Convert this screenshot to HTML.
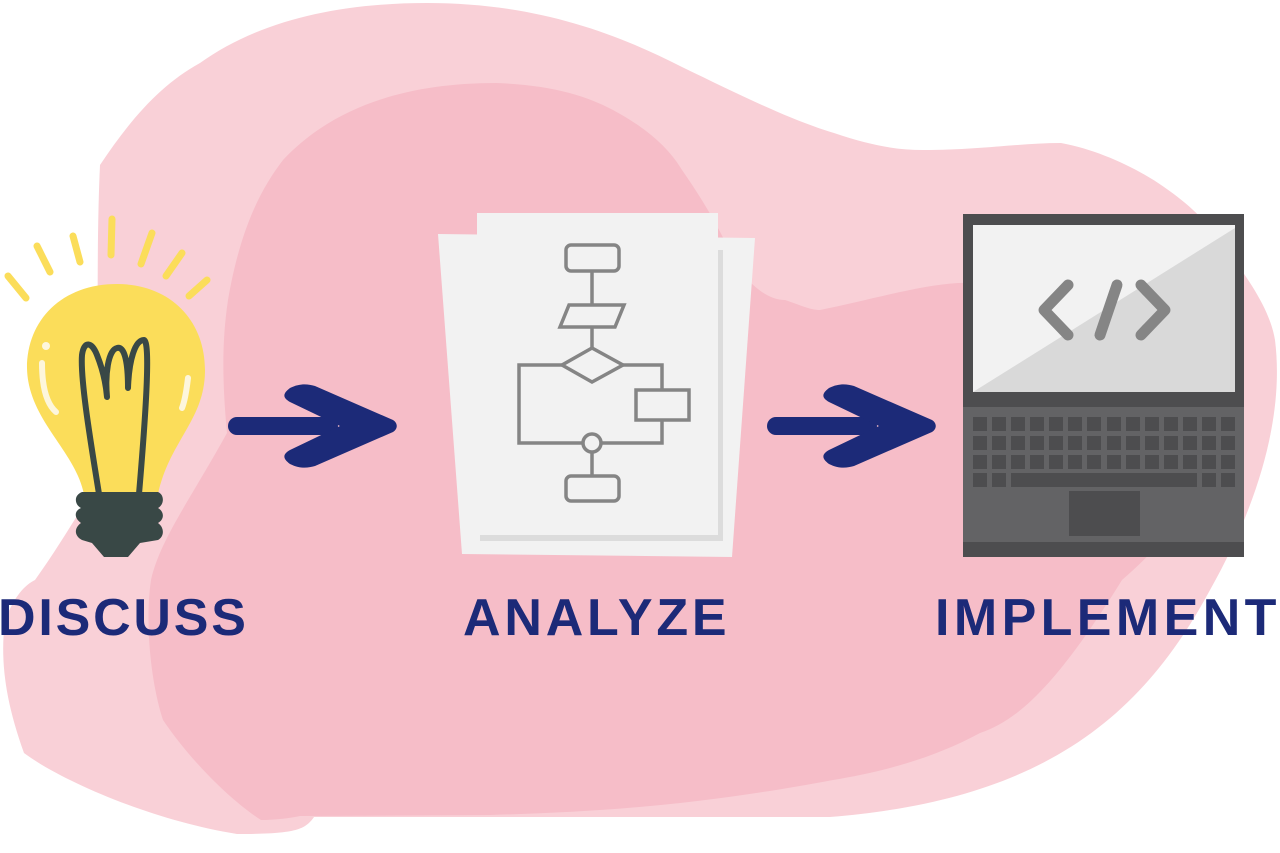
<!DOCTYPE html>
<html><head><meta charset="utf-8"><style>
html,body{margin:0;padding:0;background:#fff;}
body{width:1280px;height:853px;overflow:hidden;position:relative;}
svg{position:absolute;left:0;top:0;}
.t{position:absolute;top:588px;font-family:"Liberation Sans",sans-serif;font-weight:bold;color:#1c2a78;font-size:52px;line-height:60px;white-space:nowrap;}
</style></head><body>
<svg width="1280" height="853" viewBox="0 0 1280 853">
<path fill="#f9d0d7" d="M100,165 C130,120 160,85 200,63 C260,20 340,3 427,3 C530,3 610,30 682,67 C740,95 790,120 834,133 C870,145 895,150 923,150 C980,150 1020,143 1061,143 C1100,150 1140,170 1164,187 C1190,205 1205,220 1219,240 C1250,280 1270,310 1275,340 C1285,420 1255,510 1210,590 C1140,720 1040,800 830,817 L314,817 C305,830 295,834 237,834 C150,820 60,780 24,753 C5,700 0,660 5,620 C15,595 25,585 35,580 C60,545 80,510 100,480 C98,380 96,250 100,165 Z"/>
<path fill="#f6bdc8" d="M228,300 C240,230 260,190 283,160 C330,110 400,83 496,83 C550,85 585,95 613,110 C650,130 670,150 682,170 C710,210 725,240 737,267 C755,290 770,300 785,300 C800,305 810,310 820,310 C870,300 920,285 958,283 C1050,280 1150,300 1220,380 C1240,450 1180,530 1122,580 C1060,680 1020,720 980,733 C930,760 880,772 833,780 C700,805 600,812 490,815 L300,816 C280,820 265,820 261,820 C230,800 190,760 163,720 C150,680 145,620 151,580 C160,540 190,500 227,433 C222,380 222,340 228,300 Z"/>
<g stroke="#fbdd5a" stroke-width="7" stroke-linecap="round" fill="none">
<line x1="8" y1="276" x2="26" y2="298"/>
<line x1="37" y1="246" x2="50" y2="272"/>
<line x1="73" y1="236" x2="80" y2="262"/>
<line x1="112" y1="219" x2="111" y2="255"/>
<line x1="152" y1="233" x2="141" y2="264"/>
<line x1="182" y1="253" x2="166" y2="276"/>
<line x1="207" y1="280" x2="189" y2="296"/>
</g>
<path fill="#fbdd5a" d="M117,284 C170,284 205,320 205,370 C205,420 170,440 158,494 L84,494 C75,450 28,420 27,368 C27,320 62,284 117,284 Z"/>
<path fill="none" stroke="#fdf6dc" stroke-width="6" stroke-linecap="round" d="M42,363 C42,390 48,405 56,412"/>
<circle cx="46" cy="346" r="4" fill="#fdf6dc"/>
<path fill="none" stroke="#fdf6dc" stroke-width="6" stroke-linecap="round" d="M188,378 C186,395 184,403 182,408"/>
<path fill="none" stroke="#394846" stroke-width="6" stroke-linecap="round" stroke-linejoin="round" d="M99,494 C92,450 80,380 82,355 C84,340 92,342 97,355 C103,370 106,385 107,397 C105,375 108,350 117,348 C124,346 128,360 128,388 C129,360 135,340 144,340 C150,342 147,400 139,494"/>
<path fill="#394846" d="M82,492 L158,492 C165,495 164,505 158,508 C165,512 164,520 158,523 C165,528 164,537 158,540 L140,543 L128,557 L104,557 L92,543 L82,540 C74,536 74,528 81,523 C74,518 74,511 81,508 C74,504 74,495 82,492 Z"/>
<g fill="#1c2a78">
<rect x="228" y="417" width="110" height="18" rx="9"/>
<path d="M290,388 C300,383 308,384 315,386 L393,420 C398,423 398,429 393,432 L315,466 C308,468 300,469 290,464 C282,458 283,454 290,450 L340,426 L290,402 C283,398 282,394 290,388 Z"/>
<rect x="767" y="417" width="110" height="18" rx="9"/>
<path d="M829,388 C839,383 847,384 854,386 L932,420 C937,423 937,429 932,432 L854,466 C847,468 839,469 829,464 C821,458 822,454 829,450 L879,426 L829,402 C822,398 821,394 829,388 Z"/>
</g>
<polygon points="438,234 755,238 732,557 462,554" fill="#f2f2f2"/>
<rect x="480" y="250" width="243" height="291" fill="#dcdcdc"/>
<rect x="477" y="213" width="241" height="322" fill="#f2f2f2"/>
<g fill="none" stroke="#858585" stroke-width="3.5">
<rect x="566" y="245" width="53" height="26" rx="5"/>
<line x1="592" y1="271" x2="592" y2="305"/>
<polygon points="560,327 569,305 624,305 615,327"/>
<line x1="592" y1="327" x2="592" y2="348"/>
<polygon points="592,348 562,365 592,382 623,365"/>
<polyline points="562,365 519,365 519,443 583,443"/>
<polyline points="623,365 662,365 662,390"/>
<rect x="636" y="390" width="53" height="30"/>
<polyline points="662,420 662,443 601,443"/>
<circle cx="592" cy="443" r="9"/>
<line x1="592" y1="452" x2="592" y2="476"/>
<rect x="566" y="476" width="53" height="25" rx="5"/>
</g>
<rect x="963" y="214" width="281" height="343" fill="#4d4d4f"/>
<rect x="973" y="225" width="262" height="167" fill="#d9d9d9"/>
<polygon points="973,225 1235,225 1235,228 973,392" fill="#f2f2f2"/>
<rect x="963" y="407" width="281" height="135" fill="#636365"/>
<g fill="#4d4d4f">
<g id="row">
<rect x="973" y="417" width="14" height="14"/><rect x="992" y="417" width="14" height="14"/><rect x="1011" y="417" width="14" height="14"/><rect x="1030" y="417" width="14" height="14"/><rect x="1049" y="417" width="14" height="14"/><rect x="1068" y="417" width="14" height="14"/><rect x="1087" y="417" width="14" height="14"/><rect x="1107" y="417" width="14" height="14"/><rect x="1126" y="417" width="14" height="14"/><rect x="1145" y="417" width="14" height="14"/><rect x="1164" y="417" width="14" height="14"/><rect x="1183" y="417" width="14" height="14"/><rect x="1202" y="417" width="14" height="14"/><rect x="1221" y="417" width="14" height="14"/>
</g>
<use href="#row" y="19"/>
<use href="#row" y="38"/>
<rect x="973" y="473" width="14" height="14"/><rect x="992" y="473" width="14" height="14"/>
<rect x="1011" y="473" width="186" height="14"/>
<rect x="1202" y="473" width="14" height="14"/><rect x="1221" y="473" width="14" height="14"/>
<rect x="1069" y="491" width="71" height="45"/>
</g>
<g fill="none" stroke="#858585" stroke-width="11" stroke-linecap="round" stroke-linejoin="round">
<polyline points="1068,285 1044,310 1068,335"/>
<line x1="1117" y1="285" x2="1100" y2="335"/>
<polyline points="1141,285 1165,310 1141,335"/>
</g>
</svg>
<div class="t" style="left:-2px;letter-spacing:2.8px;">DISCUSS</div>
<div class="t" style="left:463px;letter-spacing:3.8px;">ANALYZE</div>
<div class="t" style="left:935px;letter-spacing:4.4px;">IMPLEMENT</div>
</body></html>
